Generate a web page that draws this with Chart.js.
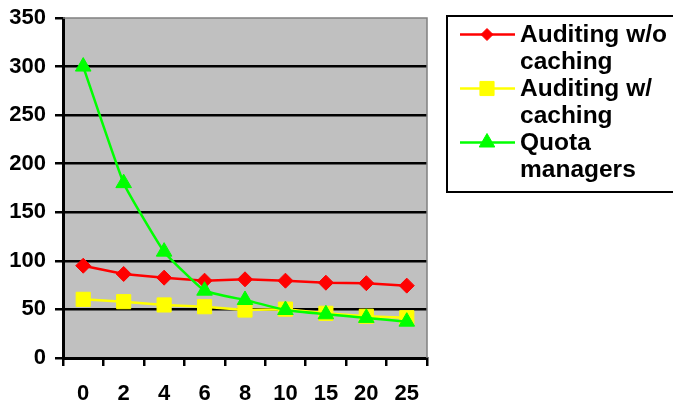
<!DOCTYPE html>
<html>
<head>
<meta charset="utf-8">
<script src="https://cdn.jsdelivr.net/npm/chart.js@4/dist/chart.umd.min.js"></script>
<style>
  html, body { margin: 0; padding: 0; background: #ffffff; }
  #wrap { width: 673px; height: 403px; position: relative; }
</style>
</head>
<body>
<div id="wrap"><canvas id="c" width="673" height="403"></canvas></div>
<script>
const categories = ['0', '2', '4', '6', '8', '10', '15', '20', '25'];
const auditingNoCache = [95, 86.5, 82.7, 79.6, 81, 79.6, 77.5, 77, 74.5];
const auditingCache = [60.4, 58, 54.6, 52.8, 49.4, 50.3, 46, 43, 41.5];
const quotaManagers = [300, 180, 109.5, 69.3, 59.7, 49.4, 45, 41.3, 37.4];
const yTicks = [0, 50, 100, 150, 200, 250, 300, 350];
const legendLines = [['Auditing w/o', 'caching'], ['Auditing w/', 'caching'], ['Quota', 'managers']];

const FONT = '"Liberation Sans", Arial, sans-serif';

const plotBg = {
  id: 'plotBg',
  beforeDraw(chart) {
    const { ctx, chartArea: a } = chart;
    ctx.save();
    ctx.fillStyle = '#C0C0C0';
    ctx.fillRect(a.left, a.top, a.right - a.left, a.bottom - a.top);
    ctx.restore();
  },
  beforeDatasetsDraw(chart) {
    const { ctx, chartArea: a } = chart;
    ctx.save();
    ctx.strokeStyle = '#808080';
    ctx.lineWidth = 1.5;
    ctx.beginPath();
    ctx.moveTo(a.left, a.top);
    ctx.lineTo(a.right, a.top);
    ctx.lineTo(a.right, a.bottom);
    ctx.stroke();
    ctx.restore();
  }
};

const customLegend = {
  id: 'customLegend',
  afterDraw(chart) {
    const ctx = chart.ctx;
    ctx.save();
    ctx.strokeStyle = '#000';
    ctx.lineWidth = 2;
    ctx.strokeRect(447, 16, 240, 176);
    ctx.textBaseline = 'alphabetic';
    const lineH = 27;
    let baseline = 41.5;
    chart.data.datasets.forEach((ds, i) => {
      const my = baseline - 7;
      ctx.strokeStyle = ds.borderColor;
      ctx.lineWidth = 2.5;
      ctx.beginPath();
      ctx.moveTo(460, my);
      ctx.lineTo(515, my);
      ctx.stroke();
      ctx.fillStyle = ds.backgroundColor;
      ctx.strokeStyle = ds.borderColor;
      ctx.lineWidth = 1;
      Chart.helpers.drawPoint(ctx, {
        pointStyle: ds.pointStyle,
        radius: ds.legendRadius,
        borderWidth: 1
      }, 487, my);
      ctx.fillStyle = '#000';
      ctx.font = 'bold 24.5px ' + FONT;
      legendLines[i].forEach((t, j) => {
        ctx.fillText(t, 520, baseline + j * lineH);
      });
      baseline += lineH * legendLines[i].length;
    });
    ctx.restore();
  }
};

new Chart(document.getElementById('c'), {
  type: 'line',
  data: {
    labels: categories,
    datasets: [
      {
        label: legendLines[0].join(' '),
        data: auditingNoCache,
        borderColor: '#FF0000',
        backgroundColor: '#FF0000',
        borderWidth: 2.5,
        pointStyle: 'rectRot',
        pointRadius: 7.5,
        legendRadius: 6,
        pointBorderWidth: 1,
        tension: 0,
        order: 2
      },
      {
        label: legendLines[1].join(' '),
        data: auditingCache,
        borderColor: '#FFFF00',
        backgroundColor: '#FFFF00',
        borderWidth: 2.5,
        pointStyle: 'rect',
        pointRadius: 10,
        legendRadius: 10,
        pointBorderWidth: 1,
        tension: 0,
        order: 1
      },
      {
        label: legendLines[2].join(' '),
        data: quotaManagers,
        borderColor: '#00FF00',
        backgroundColor: '#00FF00',
        borderWidth: 2.5,
        pointStyle: 'triangle',
        pointRadius: 9,
        legendRadius: 9,
        pointBorderWidth: 1,
        tension: 0.12,
        order: 0
      }
    ]
  },
  options: {
    responsive: false,
    animation: false,
    devicePixelRatio: 1,
    layout: { padding: { top: 18, right: 246, left: 0, bottom: 0 } },
    plugins: {
      legend: { display: false },
      tooltip: { enabled: false },
      title: { display: false }
    },
    scales: {
      x: {
        offset: true,
        grid: {
          offset: true,
          drawOnChartArea: false,
          drawTicks: true,
          tickLength: 8,
          color: '#000',
          lineWidth: 2.5
        },
        border: { display: true, color: '#000', width: 3 },
        ticks: {
          color: '#000',
          font: { family: FONT, size: 22, weight: 'bold' },
          padding: 15,
          maxRotation: 0,
          autoSkip: false
        },
        afterFit(scale) { scale.height = 45; scale.paddingLeft = 0; scale.paddingRight = 0; }
      },
      y: {
        min: 0,
        max: 350,
        afterBuildTicks(scale) { scale.ticks = yTicks.map(v => ({ value: v })); },
        grid: {
          drawTicks: true,
          tickLength: 8,
          tickColor: '#000',
          tickWidth: 2.5,
          color: (c) => (c.tick && c.tick.value === 350) ? 'rgba(0,0,0,0)' : '#000',
          lineWidth: 2.5
        },
        border: { display: true, color: '#000', width: 3 },
        ticks: {
          color: '#000',
          font: { family: FONT, size: 22, weight: 'bold' },
          padding: 9,
          stepSize: 50
        },
        afterFit(scale) { scale.width = 63; scale.paddingTop = 0; scale.paddingBottom = 0; }
      }
    }
  },
  plugins: [plotBg, customLegend]
});
</script>
</body>
</html>
